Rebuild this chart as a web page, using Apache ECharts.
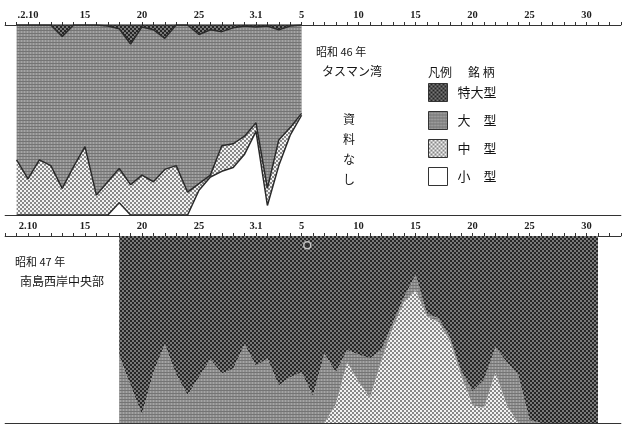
<!DOCTYPE html>
<html><head><meta charset="utf-8">
<script src="https://cdn.jsdelivr.net/npm/echarts@6/dist/echarts.min.js"></script>
<style>html,body{margin:0;padding:0;background:#fff}#c{width:628px;height:426px}</style>
</head><body><div id="c"></div>
<script>
// ---- axis ticks (day index: 0 = 2月10日; 3.1 = day 20) ----
const axisDays = [];
for (let d = -2; d <= 52; d++) axisDays.push(d);
const tickDays = [0, 5, 10, 15, 20, 24, 29, 34, 39, 44, 49];
const topTickLabels = ['.2.10', '15', '20', '25', '3.1', '5', '10', '15', '20', '25', '30'];
const bottomTickLabels = ['2.10', '15', '20', '25', '3.1', '5', '10', '15', '20', '25', '30'];
const seriesNames = ['特大型', '大　型', '中　型', '小　型'];

// ---- 昭和46年 タスマン湾 (percent by day) ----
const topDays   = [-1, 0, 1, 2, 3, 4, 5, 6, 7, 8, 9, 10, 11, 12, 13, 14, 15, 16, 17, 18, 19, 20, 21, 22, 23, 24];
const topSmall  = [0, 0, 0, 0, 0, 0, 0, 0, 0, 6.5, 0, 0, 0, 0, 0, 0, 13, 20, 23, 25, 32, 44, 5, 26, 42, 52.5];
const topMedium = [29, 19, 29, 26, 14, 25.5, 36, 10.5, 17.5, 18, 16, 21, 17.5, 24, 26, 12, 3.5, 1, 13.5, 12.5, 9.5, 4.5, 9, 13.5, 4, 1];
const topLarge  = [71, 81, 71, 74, 80, 74.5, 64, 89.5, 82, 73.5, 74, 78, 80, 69, 74, 88, 78.5, 76.5, 60, 61, 58, 50.5, 85.5, 58, 53.5, 46.5];
const topXLarge = [0, 0, 0, 0, 6, 0, 0, 0, 0.5, 2, 10, 1, 2.5, 7, 0, 0, 5, 2.5, 3.5, 1.5, 0.5, 1, 0.5, 2.5, 0.5, 0];

// ---- 昭和47年 南島西岸中央部 (percent by day) ----
const bottomDays    = [8, 9, 10, 11, 12, 13, 14, 15, 16, 17, 18, 19, 20, 21, 22, 23, 24, 25, 26, 27, 28, 29, 30, 31, 32, 33, 34, 35, 36, 37, 38, 39, 40, 41, 42, 43, 44, 45, 46, 47, 48, 49, 50];
const bottomMedium  = [0, 0, 0, 0, 0, 0, 0, 0, 0, 0, 0, 0, 0, 0, 0, 0, 0, 0, 0, 10, 32.5, 22, 13.5, 33.5, 51, 65, 71, 57, 54, 44, 25.5, 9.5, 8, 27, 9.5, 0, 0, 0, 0, 0, 0, 0, 0];
const bottomLarge   = [36, 20, 4.5, 27, 42, 26, 15, 24.5, 34, 26.5, 29, 42, 30.5, 34.5, 20, 24.5, 27, 14.5, 37, 17, 6.5, 14.5, 21, 5.5, 2.5, 2.5, 8, 1.5, 2, 2, 2.5, 7.5, 15, 13.5, 23, 25.5, 1.5, 0, 0, 0, 0, 0, 0];
const bottomXLarge  = [64, 80, 95.5, 73, 58, 74, 85, 75.5, 66, 73.5, 71, 58, 69.5, 65.5, 80, 75.5, 73, 85.5, 63, 73, 61, 63.5, 65.5, 61, 46.5, 32.5, 21, 41.5, 44, 54, 72, 83, 77, 59.5, 67.5, 74.5, 98.5, 100, 100, 100, 100, 100, 100];
const bottomMarker  = [[24.5, 95]];

function pattern(w, h, draw) {
  const c = document.createElement('canvas');
  c.width = w; c.height = h;
  const g = c.getContext('2d');
  draw(g);
  return { image: c, repeat: 'repeat' };
}
function dots(g, col, r, pts) {
  g.fillStyle = col;
  pts.forEach(p => { g.beginPath(); g.arc(p[0], p[1], r, 0, Math.PI * 2); g.fill(); });
}
const darkPat = pattern(4, 4, g => { g.fillStyle = '#262626'; g.fillRect(0, 0, 4, 4); dots(g, '#a3a3a3', 0.9, [[1, 1], [3, 3]]); });
const grayPat = pattern(3, 3, g => {
  g.fillStyle = '#8f8f8f'; g.fillRect(0, 0, 3, 3);
  g.fillStyle = '#747474'; g.fillRect(0, 0, 3, 1);
  g.fillStyle = '#a5a5a5'; g.fillRect(0, 1, 1, 2);
});
const medPat = pattern(4, 4, g => { g.fillStyle = '#f2f2f2'; g.fillRect(0, 0, 4, 4); dots(g, '#656565', 1.0, [[1, 1], [3, 3]]); });
const smallCol = '#ffffff';
const fills = [darkPat, grayPat, medPat, smallCol];

// align a day-indexed series onto the category axis
function onAxis(days, vals) {
  return axisDays.map(d => { const i = days.indexOf(d); return i >= 0 ? vals[i] : '-'; });
}

function mkAxis(grid, pos, labels) {
  return {
    type: 'category', gridIndex: grid, position: pos, data: axisDays.map(String), boundaryGap: false,
    axisLine: { show: true, onZero: false, lineStyle: { color: '#333', width: 1.2 } },
    axisTick: { show: !!labels, length: 3, interval: 0, lineStyle: { color: '#333' } },
    axisLabel: {
      show: !!labels, interval: 0, margin: 4, color: '#1e1e1e', fontSize: 10.5, fontWeight: 'bold',
      fontFamily: 'Liberation Serif',
      formatter: v => { const i = tickDays.indexOf(Number(v)); return i >= 0 && labels ? labels[i] : ''; }
    },
    splitLine: { show: false }
  };
}

function areaSeries(name, fillIdx, xi, yi, stack, data, lw) {
  return {
    name, type: 'line', xAxisIndex: xi, yAxisIndex: yi, stack, data,
    symbol: 'none', smooth: false, silent: true,
    color: fills[fillIdx],
    itemStyle: { color: fills[fillIdx] },
    lineStyle: { width: lw, color: '#2a2a2a', opacity: lw ? 1 : 0 },
    areaStyle: { color: fills[fillIdx], opacity: 1 }
  };
}

const chart = echarts.init(document.getElementById('c'), null, { renderer: 'canvas' });
const jp = '"Noto Sans CJK JP"';
function txt(x, y, s, size, lh) {
  return { type: 'text', left: x, top: y, silent: true,
    style: { text: s, fontSize: size || 12, fontFamily: jp, fill: '#151515', lineHeight: lh || (size || 12) + 2 } };
}
chart.setOption({
  backgroundColor: '#ffffff',
  animation: false,
  grid: [
    { left: 5.2, right: 7.2, top: 25, height: 190 },
    { left: 5.2, right: 7.2, top: 236, height: 187 }
  ],
  xAxis: [
    mkAxis(0, 'top', topTickLabels),
    mkAxis(0, 'bottom', null),
    mkAxis(1, 'top', bottomTickLabels),
    mkAxis(1, 'bottom', null),
    { type: 'value', gridIndex: 1, min: -2, max: 52, show: false }
  ],
  yAxis: [
    { type: 'value', gridIndex: 0, min: 0, max: 100, show: false },
    { type: 'value', gridIndex: 1, min: 0, max: 100, show: false }
  ],
  legend: {
    data: seriesNames, orient: 'vertical', left: 428, top: 83, padding: 0,
    itemWidth: 19, itemHeight: 18, itemGap: 9, icon: 'rect', selectedMode: false,
    itemStyle: { borderColor: '#333', borderWidth: 1 },
    textStyle: { fontSize: 13, fontFamily: jp, color: '#151515', padding: [0, 0, 0, 5] }
  },
  series: [
    areaSeries('小　型', 3, 0, 0, 'top', onAxis(topDays, topSmall), 1.5),
    areaSeries('中　型', 2, 0, 0, 'top', onAxis(topDays, topMedium), 1.5),
    areaSeries('大　型', 1, 0, 0, 'top', onAxis(topDays, topLarge), 1.5),
    areaSeries('特大型', 0, 0, 0, 'top', onAxis(topDays, topXLarge), 1.5),
    areaSeries('中　型', 2, 2, 1, 'bot', onAxis(bottomDays, bottomMedium), 0),
    areaSeries('大　型', 1, 2, 1, 'bot', onAxis(bottomDays, bottomLarge), 0),
    areaSeries('特大型', 0, 2, 1, 'bot', onAxis(bottomDays, bottomXLarge), 0),
    {
      type: 'scatter', xAxisIndex: 4, yAxisIndex: 1, data: bottomMarker, silent: true,
      symbol: 'circle', symbolSize: 7, z: 5,
      itemStyle: { color: '#2a2a2a', borderColor: '#e6e6e6', borderWidth: 1.5 }
    }
  ],
  graphic: [
    txt(316, 45, '昭和 46 年', 11),
    txt(322, 64, 'タスマン湾', 12),
    txt(428, 65, '凡例', 12),
    txt(468, 65, '銘 柄', 12),
    txt(343, 109, '資\n料\nな\nし', 12, 20),
    txt(15, 255, '昭和 47 年', 11),
    txt(20, 274, '南島西岸中央部', 12)
  ]
});
</script>
</body></html>
